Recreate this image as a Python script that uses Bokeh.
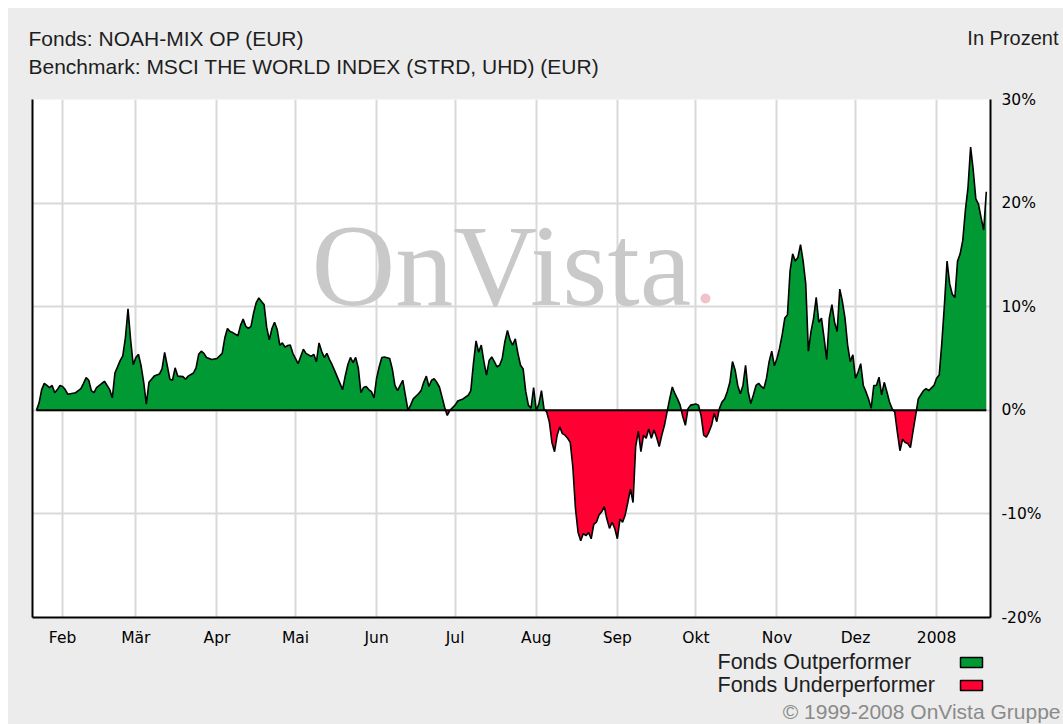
import numpy as np
import pandas as pd
from bokeh.plotting import figure
from bokeh.models import Range1d, FixedTicker, LinearAxis, Spacer
from bokeh.layouts import column, row
from bokeh.core.properties import value
from bokeh.embed import file_html
from bokeh.resources import INLINE

# ---------------- data (relative performance fund vs benchmark, %) ----------------
dates = [
    "2007-01-22", "2007-01-23", "2007-01-24", "2007-01-25", "2007-01-26", "2007-01-27", "2007-01-28",
    "2007-01-29", "2007-01-30", "2007-01-31",
    "2007-02-01", "2007-02-02", "2007-02-03", "2007-02-05", "2007-02-06", "2007-02-08", "2007-02-09",
    "2007-02-10", "2007-02-11", "2007-02-12", "2007-02-13", "2007-02-14", "2007-02-16", "2007-02-17",
    "2007-02-18", "2007-02-19", "2007-02-20", "2007-02-21", "2007-02-23", "2007-02-24", "2007-02-25",
    "2007-02-26", "2007-02-27", "2007-02-28",
    "2007-03-01", "2007-03-02", "2007-03-03", "2007-03-04", "2007-03-05", "2007-03-06", "2007-03-07",
    "2007-03-08", "2007-03-09", "2007-03-10", "2007-03-11", "2007-03-12", "2007-03-13", "2007-03-14",
    "2007-03-15", "2007-03-16", "2007-03-17", "2007-03-19", "2007-03-20", "2007-03-21", "2007-03-23",
    "2007-03-24", "2007-03-25", "2007-03-26", "2007-03-27", "2007-03-28", "2007-03-30",
    "2007-04-01", "2007-04-03", "2007-04-04", "2007-04-05", "2007-04-06", "2007-04-07", "2007-04-09",
    "2007-04-10", "2007-04-11", "2007-04-12", "2007-04-13", "2007-04-14", "2007-04-15", "2007-04-16",
    "2007-04-17", "2007-04-18", "2007-04-19", "2007-04-20", "2007-04-21", "2007-04-22", "2007-04-23",
    "2007-04-24", "2007-04-25", "2007-04-26", "2007-04-27", "2007-04-28", "2007-04-29", "2007-04-30",
    "2007-05-02", "2007-05-03", "2007-05-04", "2007-05-05", "2007-05-07", "2007-05-08", "2007-05-09",
    "2007-05-10", "2007-05-11", "2007-05-12", "2007-05-13", "2007-05-14", "2007-05-15", "2007-05-16",
    "2007-05-18", "2007-05-19", "2007-05-20", "2007-05-21", "2007-05-22", "2007-05-23", "2007-05-24",
    "2007-05-25", "2007-05-26", "2007-05-27", "2007-05-28", "2007-05-29", "2007-05-30", "2007-05-31",
    "2007-06-01", "2007-06-02", "2007-06-03", "2007-06-04", "2007-06-06", "2007-06-07", "2007-06-08",
    "2007-06-09", "2007-06-10", "2007-06-11", "2007-06-12", "2007-06-13", "2007-06-14", "2007-06-15",
    "2007-06-17", "2007-06-18", "2007-06-19", "2007-06-20", "2007-06-21", "2007-06-22", "2007-06-23",
    "2007-06-24", "2007-06-25", "2007-06-26", "2007-06-27", "2007-06-28", "2007-06-29",
    "2007-07-01", "2007-07-02", "2007-07-04", "2007-07-06", "2007-07-07", "2007-07-08", "2007-07-09",
    "2007-07-10", "2007-07-11", "2007-07-12", "2007-07-13", "2007-07-14", "2007-07-15", "2007-07-16",
    "2007-07-17", "2007-07-18", "2007-07-19", "2007-07-20", "2007-07-21", "2007-07-22", "2007-07-23",
    "2007-07-24", "2007-07-25", "2007-07-26", "2007-07-27", "2007-07-28", "2007-07-29", "2007-07-30",
    "2007-07-31",
    "2007-08-01", "2007-08-02", "2007-08-03", "2007-08-04", "2007-08-05", "2007-08-06", "2007-08-07",
    "2007-08-08", "2007-08-09", "2007-08-10", "2007-08-11", "2007-08-12", "2007-08-13", "2007-08-14",
    "2007-08-15", "2007-08-16", "2007-08-17", "2007-08-18", "2007-08-19", "2007-08-20", "2007-08-21",
    "2007-08-22", "2007-08-23", "2007-08-24", "2007-08-25", "2007-08-26", "2007-08-27", "2007-08-28",
    "2007-08-29", "2007-08-30", "2007-08-31",
    "2007-09-01", "2007-09-02", "2007-09-03", "2007-09-04", "2007-09-05", "2007-09-06", "2007-09-07",
    "2007-09-08", "2007-09-09", "2007-09-10", "2007-09-11", "2007-09-12", "2007-09-13", "2007-09-14",
    "2007-09-15", "2007-09-16", "2007-09-17", "2007-09-18", "2007-09-19", "2007-09-20", "2007-09-21",
    "2007-09-22", "2007-09-23", "2007-09-24", "2007-09-25", "2007-09-26", "2007-09-27", "2007-09-28",
    "2007-09-29",
    "2007-10-01", "2007-10-02", "2007-10-03", "2007-10-04", "2007-10-05", "2007-10-06", "2007-10-07",
    "2007-10-08", "2007-10-09", "2007-10-10", "2007-10-11", "2007-10-12", "2007-10-13", "2007-10-14",
    "2007-10-15", "2007-10-16", "2007-10-17", "2007-10-18", "2007-10-19", "2007-10-20", "2007-10-21",
    "2007-10-22", "2007-10-23", "2007-10-24", "2007-10-25", "2007-10-26", "2007-10-27", "2007-10-28",
    "2007-10-29", "2007-10-30", "2007-10-31",
    "2007-11-01", "2007-11-02", "2007-11-03", "2007-11-04", "2007-11-05", "2007-11-06", "2007-11-07",
    "2007-11-08", "2007-11-09", "2007-11-10", "2007-11-11", "2007-11-12", "2007-11-13", "2007-11-14",
    "2007-11-15", "2007-11-16", "2007-11-17", "2007-11-18", "2007-11-19", "2007-11-20", "2007-11-21",
    "2007-11-22", "2007-11-23", "2007-11-24", "2007-11-25", "2007-11-26", "2007-11-27", "2007-11-28",
    "2007-11-29", "2007-11-30",
    "2007-12-01", "2007-12-02", "2007-12-03", "2007-12-04", "2007-12-05", "2007-12-06", "2007-12-07",
    "2007-12-08", "2007-12-09", "2007-12-10", "2007-12-11", "2007-12-12", "2007-12-13", "2007-12-14",
    "2007-12-15", "2007-12-16", "2007-12-17", "2007-12-18", "2007-12-19", "2007-12-20", "2007-12-21",
    "2007-12-22", "2007-12-23", "2007-12-24", "2007-12-25", "2007-12-26", "2007-12-27", "2007-12-28",
    "2007-12-29", "2007-12-31",
    "2008-01-01", "2008-01-02", "2008-01-03", "2008-01-04", "2008-01-05", "2008-01-06", "2008-01-07",
    "2008-01-08", "2008-01-09", "2008-01-10", "2008-01-11", "2008-01-12", "2008-01-13", "2008-01-14",
    "2008-01-15", "2008-01-16", "2008-01-17", "2008-01-18", "2008-01-19", "2008-01-20",
]

rel_perf = [
    0.0, 0.7, 2.0, 2.6, 2.4, 2.2, 2.4, 1.7, 2.0, 2.4,
    2.3, 2.0, 1.55, 1.65, 1.7, 2.1, 2.6, 3.15, 2.9, 1.9, 1.7, 2.2, 2.6, 2.8, 2.4, 2.0, 1.2, 3.6,
    4.8, 5.25, 7.0, 9.8, 6.8, 4.4,
    5.1, 5.4, 4.3, 2.7, 0.6, 2.7, 3.0, 3.3, 3.4, 3.5, 4.0, 5.6, 4.3, 3.0, 2.9, 4.1, 3.3, 3.25, 3.0,
    3.3, 3.6, 4.1, 5.4, 5.7, 5.5, 5.1, 4.9,
    5.0, 5.5, 7.0, 7.9, 7.6, 7.5, 7.2, 8.2, 8.8, 8.1, 7.9, 8.1, 9.4, 10.4, 10.85, 10.5, 10.2, 8.0,
    6.8, 7.9, 8.5, 7.8, 6.3, 6.5, 6.1, 6.25, 6.3, 5.5,
    4.5, 5.2, 5.9, 5.5, 5.2, 5.4, 4.7, 6.5, 5.7, 5.1, 5.5, 4.9, 4.4, 3.8, 2.6, 2.0, 3.3, 4.4, 5.1,
    4.6, 5.1, 4.1, 1.7, 2.2, 2.3, 2.0, 1.8, 1.2,
    3.1, 4.2, 5.1, 5.15, 5.0, 4.0, 2.4, 1.9, 2.4, 2.9, 1.45, 0.0, 0.5, 1.1, 1.6, 1.9, 2.7, 3.3, 2.3,
    2.9, 3.05, 2.7, 2.25, 1.3, 0.3, -0.5, 0.0,
    0.5, 0.9, 1.1, 1.45, 1.9, 4.5, 6.7, 5.6, 6.3, 4.7, 3.4, 4.8, 5.15, 4.7, 4.2, 4.35, 5.0, 6.6, 7.7,
    6.8, 6.3, 6.9, 5.5, 4.35, 4.0, 1.8, 0.5, 0.2, 2.2,
    0.0, 0.6, 1.9, 0.1, -0.16, -1.1, -3.1, -4.0, -2.4, -1.6, -2.25, -2.4, -2.7, -3.1, -5.5, -9.5,
    -11.8, -12.6, -11.9, -12.1, -11.8, -12.4, -11.0, -10.8, -10.1, -9.8, -9.3, -10.5, -11.4, -10.8,
    -11.4,
    -12.4, -10.5, -10.8, -10.1, -8.9, -7.6, -8.9, -3.5, -2.0, -4.0, -2.4, -2.7, -1.8, -2.7, -1.9,
    -2.6, -3.5, -2.4, -1.45, -0.16, 1.1, 2.25, 1.6, 1.1, 0.5, -0.6, -1.45, 0.16, 0.5,
    0.6, 0.5, -0.5, -2.4, -2.6, -2.1, -1.45, -0.3, -1.1, 0.16, 0.8, 1.1, 1.8, 2.7, 4.7, 3.9, 2.4,
    1.6, 2.4, 4.35, 1.8, 0.65, 1.5, 2.4, 2.6, 2.3, 2.1, 3.1, 4.7, 5.7, 4.3,
    5.0, 6.0, 7.3, 8.9, 9.2, 13.45, 15.1, 14.4, 14.75, 16.0, 14.4, 12.2, 5.7, 7.6, 8.9, 10.9, 8.5,
    8.9, 7.0, 4.9, 8.9, 10.2, 8.5, 7.6, 11.7, 10.5, 8.9, 6.3, 4.7, 5.35,
    3.1, 3.7, 4.5, 2.4, 1.8, 1.1, 0.2, 2.4, 2.4, 3.2, 1.5, 2.7, 1.8, 0.8, 0.16, -0.16, -2.1, -3.9,
    -2.8, -3.1, -3.2, -3.6, -2.0, -0.5, 1.1, 1.5, 1.9, 2.1, 1.9, 2.4,
    3.1, 3.4, 6.5, 10.2, 14.4, 12.2, 11.2, 10.9, 14.4, 15.1, 16.4, 19.3, 21.5, 25.4, 23.2, 20.4,
    19.9, 18.6, 17.4, 21.1,
]

month_starts = ["2007-02-01", "2007-03-01", "2007-04-01", "2007-05-01", "2007-06-01", "2007-07-01",
                "2007-08-01", "2007-09-01", "2007-10-01", "2007-11-01", "2007-12-01", "2008-01-01"]
month_labels = ["Feb", "Mär", "Apr", "Mai", "Jun", "Jul", "Aug", "Sep", "Okt", "Nov", "Dez", "2008"]
y_ticks = [-20, -10, 0, 10, 20, 30]
y_tick_labels = ["-20%", "-10%", "0%", "10%", "20%", "30%"]

fund_text = "Fonds: NOAH-MIX OP (EUR)"
bench_text = "Benchmark: MSCI THE WORLD INDEX (STRD, UHD) (EUR)"
unit_text = "In Prozent"
legend_labels = ["Fonds Outperformer", "Fonds Underperformer"]
copyright_text = "\u00a9 1999-2008 OnVista Gruppe"
watermark_text = "OnVista"

# ---------------- styling ----------------
GREEN = "#009933"
RED = "#ff0033"
BG = "#ececec"
GRID = "#d9d9d9"
TXT = "#1e1e1e"
SANS = "Liberation Sans"

W = 1055                   # content width (page margin of 8 px on the left)
HH, HM, HF = 78, 563, 75   # header, main, footer heights
FL, FR = 24, 982           # frame left / right in content pixels
MT, MB = 13, 32            # main figure top / bottom borders

origin = pd.Timestamp("2007-01-01")
day = (pd.to_datetime(dates) - origin).days.to_numpy().astype(float)
val = np.array(rel_perf, dtype=float)
tick_days = [int(d) for d in (pd.to_datetime(month_starts) - origin).days]

# fill arrays with zero crossings added (clean split of green / red areas)
fx, fy = [day[0]], [val[0]]
for i in range(1, len(day)):
    a, b = val[i - 1], val[i]
    if a * b < 0:
        t = a / (a - b)
        fx.append(day[i - 1] + t * (day[i] - day[i - 1]))
        fy.append(0.0)
    fx.append(day[i])
    fy.append(b)
fx = np.array(fx)
fy = np.array(fy)


def text_panel(height):
    f = figure(width=W, height=height, output_backend="svg", toolbar_location=None,
               x_range=Range1d(0, W), y_range=Range1d(height, 0),
               x_axis_location=None, y_axis_location=None,
               min_border=0, min_border_left=0, min_border_right=0,
               min_border_top=0, min_border_bottom=0, frame_align=False,
               background_fill_color=BG, border_fill_color=BG)
    f.outline_line_color = None
    f.grid.grid_line_color = None
    return f


def put_text(f, x, y, txt, size, color=TXT, align="left", font=SANS):
    f.text(x=[x], y=[y], text=[txt], text_font=value(font), text_font_size=size,
           text_color=color, text_align=align, text_baseline="middle")


# ---------------- header ----------------
header = text_panel(HH)
put_text(header, 20, 30, fund_text, "21px")
put_text(header, 20, 58, bench_text, "21px")
put_text(header, 1050, 29, unit_text, "20px", align="right")

# ---------------- main chart ----------------
p = figure(width=W, height=HM, output_backend="svg", toolbar_location=None,
           x_range=Range1d(19.5, 385.6), y_range=Range1d(-20, 30),
           y_axis_location="right", frame_align=False,
           min_border_left=FL, min_border_right=W - FR, min_border_top=MT, min_border_bottom=MB,
           background_fill_color="white", border_fill_color=BG)
p.outline_line_color = None
FT, FB = MT, HM - MB
p.extra_x_ranges = {"px": Range1d(FL, FR)}
p.extra_y_ranges = {"px": Range1d(FB + HH, FT + HH)}   # content-pixel coordinates

xa = p.xaxis[0]
xa.ticker = FixedTicker(ticks=tick_days)
xa.major_label_overrides = {d: lab for d, lab in zip(tick_days, month_labels)}
xa.major_tick_line_color = None
xa.minor_tick_line_color = None
xa.major_tick_out = 0
xa.major_label_standoff = 11
xa.axis_line_color = "black"
xa.axis_line_width = 2
xa.major_label_text_font = "DejaVu Sans"
xa.major_label_text_font_size = "15.5px"
xa.major_label_text_color = "black"

ya = p.yaxis[0]
ya.ticker = FixedTicker(ticks=y_ticks)
ya.major_label_overrides = {t: lab for t, lab in zip(y_ticks, y_tick_labels)}
ya.major_tick_line_color = None
ya.minor_tick_line_color = None
ya.major_tick_out = 0
ya.major_label_standoff = 11
ya.axis_line_color = "black"
ya.axis_line_width = 2
ya.major_label_text_font = "DejaVu Sans"
ya.major_label_text_font_size = "15.5px"
ya.major_label_text_color = "black"

p.xgrid.ticker = FixedTicker(ticks=tick_days)
p.ygrid.ticker = FixedTicker(ticks=y_ticks)
p.xgrid.grid_line_color = GRID
p.ygrid.grid_line_color = GRID
p.xgrid.grid_line_width = 2
p.ygrid.grid_line_width = 2

left_axis = LinearAxis(ticker=FixedTicker(ticks=[]), major_label_text_font_size="0px",
                       axis_line_color="black", axis_line_width=2,
                       major_tick_line_color=None, minor_tick_line_color=None)
p.add_layout(left_axis, "left")

# watermark
p.text(x=[303], y=[257], text=[watermark_text], x_range_name="px", y_range_name="px",
       text_font=value("Liberation Serif"), text_font_size="116px", text_color="#c9c9c9",
       text_baseline="middle", text_align="left")
p.scatter(x=[697], y=[290], x_range_name="px", y_range_name="px", size=10,
          fill_color="#efc3c9", line_color=None)

# areas + lines
p.varea(x=fx, y1=0, y2=np.maximum(fy, 0), fill_color=GREEN)
p.varea(x=fx, y1=0, y2=np.minimum(fy, 0), fill_color=RED)
p.line(x=[day[0], day[-1]], y=[0, 0], line_color="black", line_width=2)
p.line(x=day, y=val, line_color="black", line_width=1.6)

# ---------------- footer: legend + copyright ----------------
footer = text_panel(HF)
put_text(footer, 709, 12, legend_labels[0], "21.5px")
put_text(footer, 709, 35, legend_labels[1], "21.5px")
footer.quad(left=[952, 952], right=[974, 974], top=[8, 31], bottom=[18, 41],
            fill_color=[GREEN, RED], line_color="black", line_width=1.5)
put_text(footer, 1052, 62, copyright_text, "21px", color="#8a8a8a", align="right")

inner = column(header, p, footer, spacing=0, styles={"background-color": BG})
layout = column(Spacer(width=W + 8, height=8),
                row(Spacer(width=8, height=HH + HM + HF), inner, spacing=0),
                spacing=0)

open("out.html", "w").write(file_html(layout, INLINE))
